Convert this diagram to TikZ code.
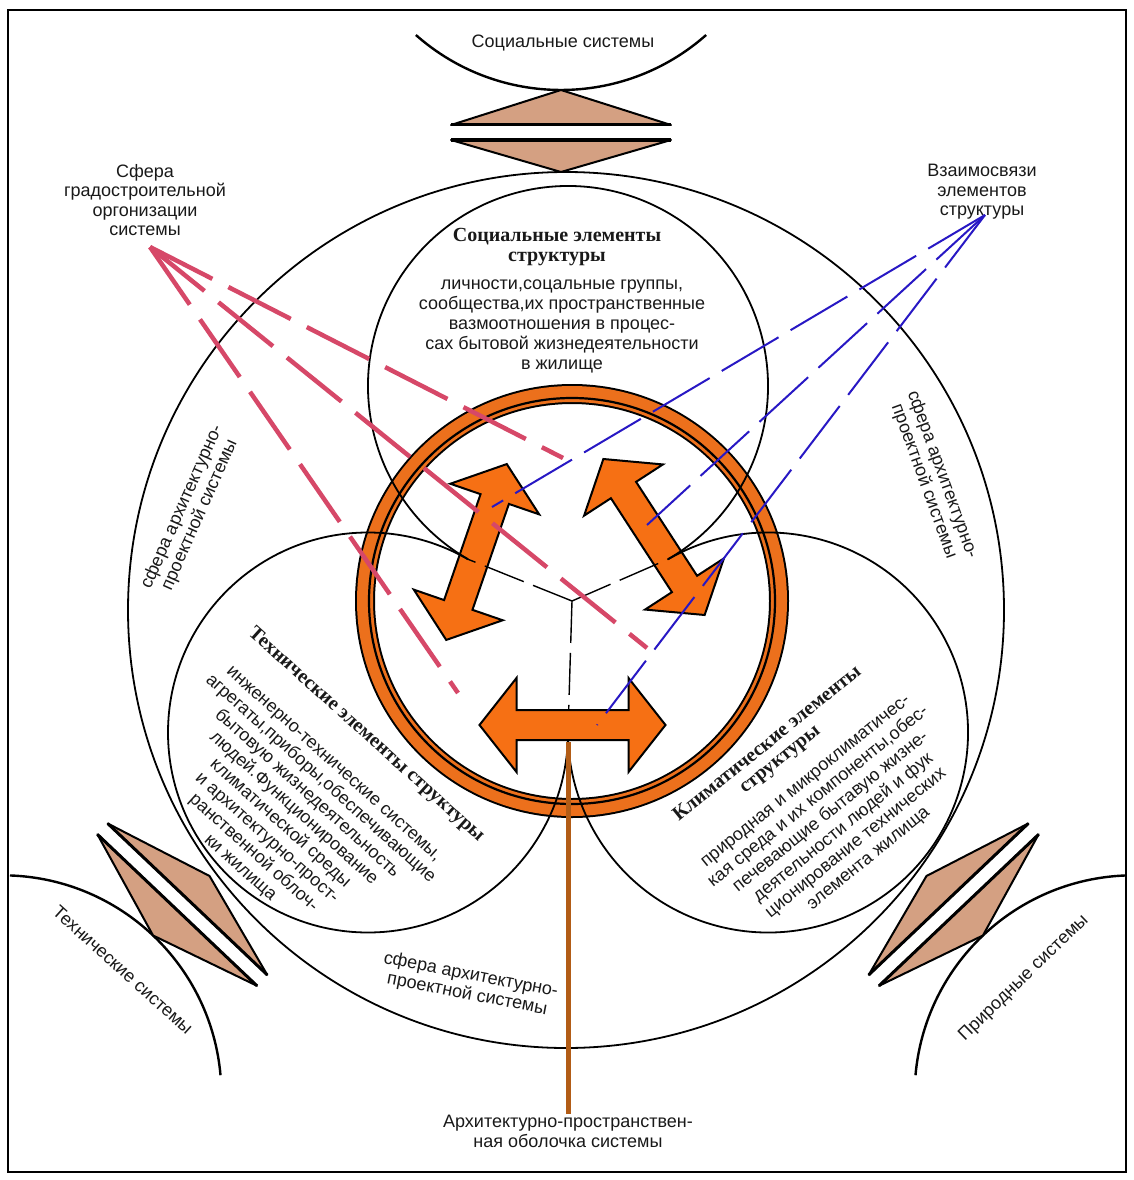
\documentclass[tikz,border=0pt]{standalone}
\usepackage{fontspec}
\setmainfont{Liberation Serif}
\setsansfont{Liberation Sans}
\usepackage{xcolor}
\definecolor{linktan}{RGB}{212,160,130}
\definecolor{ringorange}{RGB}{236,112,28}
\definecolor{arroworange}{RGB}{246,112,20}
\definecolor{shellbrown}{RGB}{178,92,22}
\definecolor{cityred}{RGB}{214,72,104}
\definecolor{relblue}{RGB}{40,24,196}
\usepackage{tikz}
\usetikzlibrary{positioning, calc}
\tikzset{
  link/.pic={
    \filldraw[linkpart] (-110,-7) -- (0,-42) -- (110,-7) -- cycle;
    \filldraw[linkpart] (-110,8) -- (0,40) -- (110,8) -- cycle;
    \draw[line width=3pt] (-110,-7) -- (110,-7);
    \draw[line width=3pt] (-110,8) -- (110,8);
  },
  dblarrow/.pic={
    \filldraw[arrowpart] (-93,0) -- (-56,-47) -- (-56,-15) -- (56,-15) -- (56,-47)
      -- (93,0) -- (56,47) -- (56,15) -- (-56,15) -- (-56,47) -- cycle;
  }
}
\begin{document}
\begin{tikzpicture}[x=1pt, y=-1pt,
  lbl/.style={font=\sffamily\fontsize{18}{19.5}\selectfont, text=black!90, align=center, inner sep=1pt},
  bodytext/.style={font=\sffamily\fontsize{18}{20}\selectfont, text=black!90, align=center, inner sep=1pt},
  titletext/.style={font=\rmfamily\bfseries\fontsize{20}{20}\selectfont, text=black!90, align=center, inner sep=1pt},
  elem/.style={line width=1.8pt},
  sysarc/.style={line width=2.4pt},
  linkpart/.style={fill=linktan, draw=black, line width=2pt, line join=round},
  arrowpart/.style={fill=arroworange, draw=black, line width=2pt},
  ybranch/.style={line width=1.4pt, dash pattern=on 42pt off 10pt},
  citylink/.style={cityred, line width=4.5pt, dash pattern=on 70pt off 18pt},
  rellink/.style={relblue, line width=2pt, dash pattern=on 66pt off 14pt},
  shell/.style={shellbrown, line width=5pt}
]
\useasboundingbox (0,0) rectangle (1134,1180);
\draw[line width=2pt] (8,10) rectangle (1126,1172);

\coordinate (outerC) at (566,610);
\coordinate (hub) at (572,601);
\coordinate (socC) at (568,386);
\coordinate (tecC) at (368,732.5);
\coordinate (cliC) at (768,732.5);
\coordinate (tpL) at ($(socC)!0.5!(tecC)$);
\coordinate (tpR) at ($(socC)!0.5!(cliC)$);
\coordinate (tpB) at ($(tecC)!0.5!(cliC)$);
\coordinate (socLink) at (561,132);
\coordinate (tecLink) at (182,905);
\coordinate (natLink) at (954,905);
\coordinate (socSys) at ($(socLink)+(-90:261)$);
\coordinate (tecSys) at ($(tecLink)+(133.5:261)$);
\coordinate (natSys) at ($(natLink)+(46.5:261)$);

\draw[elem] (outerC) circle[radius=438];
\draw[sysarc] (socSys) ++(48.5:219) arc[start angle=48.5, end angle=131.5, radius=219];
\draw[sysarc] (tecSys) ++(-88:219) arc[start angle=-88, end angle=-5, radius=219];
\draw[sysarc] (natSys) ++(185:219) arc[start angle=185, end angle=268, radius=219];
\pic at (socLink) {link};
\pic[rotate=136.5] at (tecLink) {link};
\pic[rotate=-136.5] at (natLink) {link};

\draw[line width=20pt] (hub) circle[radius=207];
\draw[ringorange, line width=16pt] (hub) circle[radius=207];
\draw[line width=2.2pt] (hub) circle[radius=203];

\pic[rotate=71] at (476.5,552) {dblarrow};
\pic[rotate=123] at (654,537) {dblarrow};

\draw[elem] (socC) ++(120:200) arc[start angle=120, end angle=420, radius=200];
\draw[elem] (tecC) ++(0:200) arc[start angle=0, end angle=300, radius=200];
\draw[elem] (cliC) ++(240:200) arc[start angle=240, end angle=540, radius=200];
\draw[ybranch] (hub) -- (tpL);
\draw[ybranch] (hub) -- (tpR);
\draw[ybranch] (hub) -- (tpB);

\pic at (572.5,725) {dblarrow};

\node[lbl] (socsys) at (563,43) {Социальные системы};
\node[lbl, rotate=-42] (tecsys) at (123,970) {Технические системы};
\node[lbl, rotate=44] (natsys) at (1024,978) {Природные системы};
\node[lbl] (citylabel) at (145,200) {Сфера\\градостроительной\\оргонизации\\системы};
\node[lbl] (rellabel) at (982,192) {Взаимосвязи\\элементов\\структуры};
\node[lbl, rotate=66] (sphL) at (191,511) {сфера архитектурно-\\проектной системы};
\node[lbl, rotate=-70] (sphR) at (933,478) {сфера архитектурно-\\проектной системы};
\node[lbl, rotate=-11] (sphB) at (469,985) {сфера архитектурно-\\проектной системы};
\node[lbl, anchor=north] (shelllabel) at (568,1114) {Архитектурно-пространствен-\\ная оболочка системы};

\node[titletext] (soctitle) at (557,247) {Социальные элементы\\структуры};
\node[bodytext] (socbody) at (562,326) {личности,соцальные группы,\\сообщества,их пространственные\\вазмоотношения в процес-\\сах бытовой жизнедеятельности\\в жилище};
\node[titletext, rotate=-42] (tectitle) at (366,735) {Технические элементы структуры};
\node[bodytext, rotate=-42] (tecbody) at (286,817) {инженерно-технические системы,\\агрегаты,приборы,обеспечивающие\\бытовую жизнедеятельность\\людей.Функционирование\\климатической среды\\и архитектурно-прост-\\ранственной облоч-\\ки жилища};
\node[titletext, rotate=39] (clititle) at (774,752) {Климатические элементы\\структуры};
\node[bodytext, rotate=39] (clibody) at (838,821) {природная и микроклиматичес-\\кая среда и их компоненты,обес-\\печевающие бытавую жизне-\\деятельности людей и фук\\ционирование технических\\элемента жилища};

\coordinate (cityTip) at (150,247);
\coordinate (cityA) at (563,458);
\coordinate (cityB) at (647,648);
\coordinate (cityC) at (458,693);
\draw[citylink] (cityTip) -- (cityA);
\draw[citylink] (cityTip) -- (cityB);
\draw[citylink] (cityTip) -- (cityC);
\coordinate (relTip) at (985,215);
\coordinate (relA) at (492,507);
\coordinate (relB) at (647,525);
\coordinate (relC) at (597,725);
\draw[rellink] (relTip) -- (relA);
\draw[rellink] (relTip) -- (relB);
\draw[rellink] (relTip) -- (relC);

\coordinate (shellTop) at (568,742);
\draw[shell] (shellTop) -- (shelllabel.north);
\end{tikzpicture}
\end{document}
